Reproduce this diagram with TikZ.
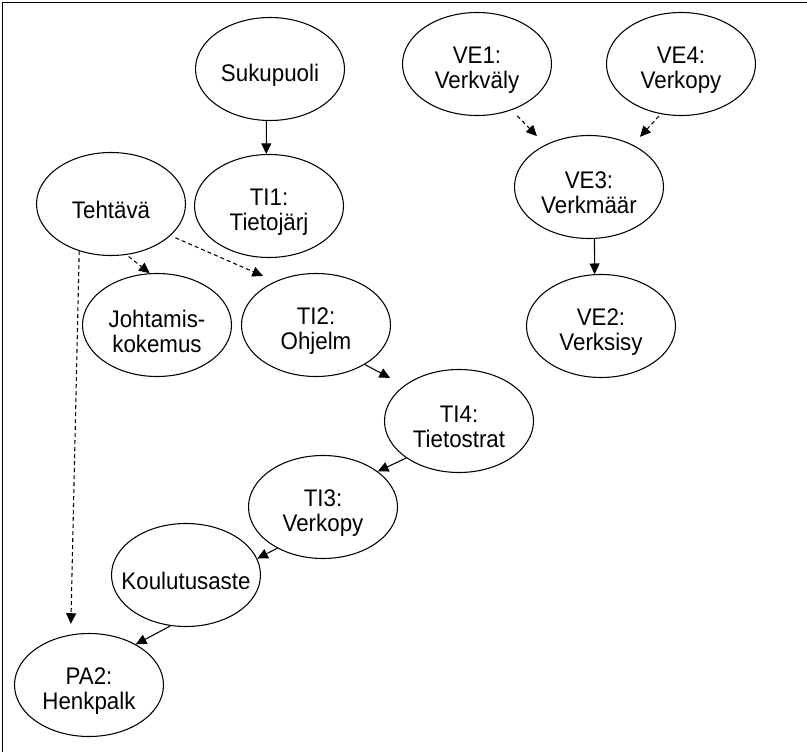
\documentclass[tikz,border=0pt]{standalone}
\usepackage{fontspec}
\setmainfont{Liberation Sans}[FakeStretch=0.93]
\usetikzlibrary{shapes.geometric,arrows.meta}
\begin{document}
\begin{tikzpicture}[x=0.75pt,y=-0.75pt,
  muuttuja/.style={ellipse,draw,line width=0.8pt,inner sep=0pt,minimum width=111.75pt,minimum height=77.25pt},
  teksti/.style={align=center,inner sep=0pt,yshift=-4.5pt,font=\fontsize{18}{18.75}\selectfont},
  nuoli/.style={-{Triangle[length=8pt,width=7.5pt]},line width=0.8pt},
  katko/.style={nuoli,dash pattern=on 3pt off 2.25pt}]
\useasboundingbox (0,0) rectangle (807,752);
\draw[line width=1.2pt] (2.5,752) -- (2.5,2.5) -- (807,2.5);

\node[muuttuja,label={[teksti]center:Sukupuoli}] (suku) at (270,69){};
\node[muuttuja,label={[teksti]center:TI1:\\Tietojärj}] (ti1) at (269,206){};
\node[muuttuja,label={[teksti]center:Tehtävä}] (teh) at (111,204){};
\node[muuttuja,label={[teksti]center:VE1:\\Verkväly}] (ve1) at (477,64){};
\node[muuttuja,label={[teksti]center:VE4:\\Verkopy}] (ve4) at (681,64){};
\node[muuttuja,label={[teksti]center:VE3:\\Verkmäär}] (ve3) at (589,187){};
\node[muuttuja,label={[teksti]center:VE2:\\Verksisy}] (ve2) at (601,326){};
\node[muuttuja,label={[teksti]center:Johtamis-\\kokemus}] (joh) at (157,325){};
\node[muuttuja,label={[teksti]center:TI2:\\Ohjelm}] (ti2) at (316,325){};
\node[muuttuja,label={[teksti]center:TI4:\\Tietostrat}] (ti4) at (459,421){};
\node[muuttuja,label={[teksti]center:TI3:\\Verkopy}] (ti3) at (323,507){};
\node[muuttuja,label={[teksti]center:Koulutusaste}] (kou) at (186,575){};
\node[muuttuja,label={[teksti]center:PA2:\\Henkpalk}] (pa2) at (89,685){};

\draw[nuoli] (suku.-94) -- (ti1.93);
\draw[nuoli] (ve3.-84) -- (ve2.97);
\draw[katko,shorten <=6pt,shorten >=9pt] (ve1.-53) -- (ve3.136);
\draw[katko,shorten <=2pt,shorten >=8pt] (ve4.-112) -- (ve3.44);

\draw[katko,shorten <=2pt] (teh.-73) -- (joh.98);
\draw[katko,shorten <=4pt,shorten >=10pt] (teh.-28) -- (ti2.133);
\draw[katko,shorten >=8pt] (teh.-124) -- (pa2.110);

\draw[nuoli,shorten >=12pt] (ti2.-39) -- (ti4.147);
\draw[nuoli] (ti4.-145) -- (ti3.33);
\draw[nuoli] (ti3.-138) -- (kou.13);
\draw[nuoli] (kou.-107) -- (pa2.41);
\end{tikzpicture}
\end{document}
